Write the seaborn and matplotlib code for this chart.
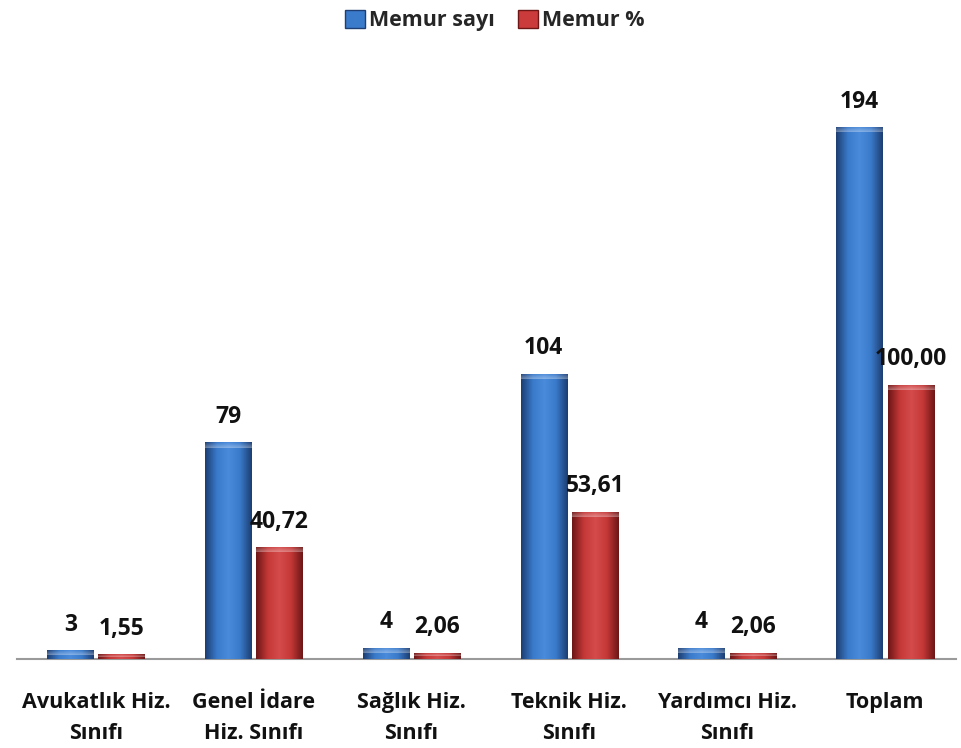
import numpy as np
import pandas as pd
import matplotlib.pyplot as plt
import seaborn as sns
from matplotlib.patches import Patch
from matplotlib.colors import LinearSegmentedColormap

sns.set_style('white')
plt.rcParams['font.family'] = ['Open Sans', 'DejaVu Sans']

# Data
categories = ['Avukatlık Hiz.\nSınıfı', 'Genel İdare\nHiz. Sınıfı', 'Sağlık Hiz.\nSınıfı',
              'Teknik Hiz.\nSınıfı', 'Yardımcı Hiz.\nSınıfı', 'Toplam']
memur_sayi = [3, 79, 4, 104, 4, 194]
memur_pct = [1.55, 40.72, 2.06, 53.61, 2.06, 100.00]
series = ['Memur sayı', 'Memur %']

df = pd.DataFrame({
    'Sınıf': categories * 2,
    'Seri': [series[0]] * 6 + [series[1]] * 6,
    'Değer': memur_sayi + memur_pct,
})

blue = '#3b7bcc'
red = '#cc3b3b'

fig = plt.figure(figsize=(9.61, 7.48), dpi=100)
ax = fig.add_axes([17 / 961, 89 / 748, 939 / 961, 600 / 748])

sns.barplot(data=df, x='Sınıf', y='Değer', hue='Seri',
            palette=[blue, red], width=0.65, gap=0.1, ax=ax, legend=False,
            edgecolor='none', linewidth=0)

# bevel-like shading on each bar
shades = {
    blue: LinearSegmentedColormap.from_list('b', ['#1d3f73', '#3a7acb', '#4a8bdb', '#3a7acb', '#1d3f73']),
    red: LinearSegmentedColormap.from_list('r', ['#6e1616', '#c53838', '#d54a4a', '#c53838', '#6e1616']),
}
grad = np.linspace(0, 1, 64).reshape(1, -1)
n = len(categories)
for i, p in enumerate(ax.patches[:2 * n]):
    x, w, h = p.get_x(), p.get_width(), p.get_height()
    cmap = shades[blue] if i < n else shades[red]
    ax.imshow(grad, cmap=cmap, extent=[x, x + w, 0, h], aspect='auto', zorder=3)
    cap = min(h * 0.5, 5 / 2.737)
    ax.imshow(np.linspace(0, 1, 32).reshape(-1, 1), cmap=LinearSegmentedColormap.from_list(
        'c', [(1, 1, 1, 0.0), (1, 1, 1, 0.35)]), extent=[x, x + w, h - cap, h],
        aspect='auto', zorder=4)
ax.set_xlim(-0.5, 5.45)
ax.set_ylim(0, 219)

# value labels
for i, p in enumerate(ax.patches[:2 * n]):
    v = memur_sayi[i] if i < n else memur_pct[i - n]
    txt = f'{v:d}' if i < n else f'{v:.2f}'.replace('.', ',')
    ax.annotate(txt, (p.get_x() + p.get_width() / 2, p.get_height()),
                xytext=(0, 10), textcoords='offset points', ha='center', va='bottom',
                fontsize=16.5, fontweight='bold', color='#111111')

ax.set_xlabel('')
ax.set_ylabel('')
ax.set_yticks([])
for s in ['top', 'right', 'left']:
    ax.spines[s].set_visible(False)
ax.spines['bottom'].set_color('#9a9a9a')
ax.spines['bottom'].set_linewidth(1.5)
ax.tick_params(axis='x', length=0, pad=24)
for lab in ax.get_xticklabels():
    lab.set_fontsize(15.5)
    lab.set_fontweight('bold')
    lab.set_color('#111111')
    lab.set_linespacing(1.6)

handles = [Patch(facecolor=blue, edgecolor='#1d3f73'), Patch(facecolor=red, edgecolor='#6e1616')]
fig.legend(handles, series, loc='upper center', bbox_to_anchor=(0.515, 1.013), ncol=2,
           frameon=False, prop={'size': 15.5, 'weight': 'bold'}, handlelength=0.9,
           handleheight=0.9, handletextpad=0.2, columnspacing=1.1)

fig.savefig('out.png', dpi=100)
